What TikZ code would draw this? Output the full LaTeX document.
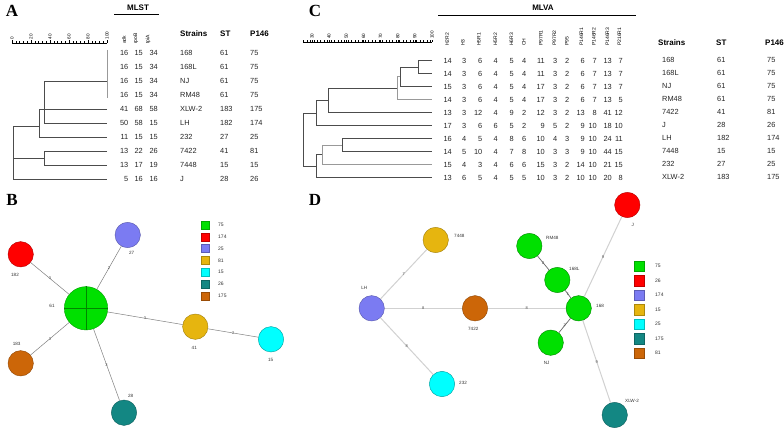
\documentclass[tikz,border=0pt]{standalone}
\usepackage{fontspec}
\setmainfont{Liberation Sans}
\newfontfamily\letterfont{Liberation Serif}
\definecolor{cgrn}{HTML}{00E000}
\definecolor{cred}{HTML}{FF0000}
\definecolor{cpur}{HTML}{7B7BF2}
\definecolor{cyel}{HTML}{E6B50F}
\definecolor{ccya}{HTML}{00FFFF}
\definecolor{ctea}{HTML}{138783}
\definecolor{cbro}{HTML}{CC6608}
\begin{document}
\begin{tikzpicture}[x=1pt,y=-1pt,
  cell/.style={font=\fontsize{7.4}{8}\selectfont, inner sep=0pt, text=black!85},
  hdr/.style={font=\bfseries\fontsize{8}{9}\selectfont, inner sep=0pt, anchor=west},
  rot/.style={font=\fontsize{5}{6}\selectfont, inner sep=0pt, rotate=90, anchor=west},
  axl/.style={font=\fontsize{4.6}{5}\selectfont, inner sep=0pt, rotate=90, anchor=west},
  letter/.style={font=\letterfont\bfseries\fontsize{17}{17}\selectfont, inner sep=0pt},
  dend/.style={line width=0.7pt, draw=black!70},
  dendg/.style={line width=0.9pt, draw=black!40},
  bub/.style={circle, minimum size=25.4pt, inner sep=0pt, line width=0.4pt},
  nlab/.style={font=\fontsize{4.6}{5}\selectfont, inner sep=0pt, text=black!80},
  elab/.style={font=\fontsize{4}{4}\selectfont, inner sep=0pt, text=black!70},
  bedge/.style={draw=black!50, line width=0.5pt},
  dedge/.style={draw=black!18, line width=1pt},
  dedged/.style={draw=black!60, line width=0.7pt},
  lsq/.style={minimum size=8pt, inner sep=0pt, line width=0.3pt},
  lsqd/.style={minimum size=10.5pt, inner sep=0pt, line width=0.3pt},
  ltx/.style={font=\fontsize{5}{6}\selectfont, inner sep=0pt, anchor=west, text=black!80}
]
\useasboundingbox (0,0) rectangle (784,430);
\fill[white] (0,0) rectangle (784,430);

% ================= Panel A =================
\node[letter] (lA) at (12,11) {A};
\node[font=\bfseries\fontsize{8}{9}\selectfont, inner sep=0pt] (mlst) at (138,8) {MLST};
\coordinate (mlstL) at (114,14);
\coordinate (mlstR) at (159,14);
\draw[line width=0.8pt] (mlstL) -- (mlstR);
% axis
\coordinate (axA0) at (12,43);
\coordinate (axA1) at (107,43);
\draw[line width=0.4pt] (axA0) -- (axA1);
\foreach \k in {0,...,25} {
  \draw[line width=0.3pt] (12+\k*3.8,43) -- (12+\k*3.8,41.3);
}
\foreach \v [count=\i from 0] in {0,20,40,60,80,100} {
  \draw[line width=0.4pt] (12+\i*19,43) -- (12+\i*19,40.5);
  \node[axl] (axa\i) at (12+\i*19,39.5) {\v};
}
% headers
\node[rot] (hadk) at (124,44) {adk};
\node[rot] (hrpo) at (136,44) {rpoB};
\node[rot] (htpi) at (148,44) {tpiA};
\node[hdr] (hsA) at (180,34) {Strains};
\node[hdr] (hstA) at (220,34) {ST};
\node[hdr] (hpA) at (250,34) {P146};
\foreach \s/\a/\b/\c/\st/\p [count=\i] in {168/16/15/34/61/75, 168L/16/15/34/61/75, NJ/16/15/34/61/75, RM48/16/15/34/61/75, XLW-2/41/68/58/183/175, LH/50/58/15/182/174, 232/11/15/15/27/25, 7422/13/22/26/41/81, 7448/13/17/19/15/15, J/5/16/16/28/26} {
  \pgfmathsetmacro\yy{53+14*(\i-1)+2.6}
  \node[cell, anchor=base east] (aa\i) at (128.5,\yy) {\a};
  \node[cell, anchor=base east] (ab\i) at (143,\yy) {\b};
  \node[cell, anchor=base east] (ac\i) at (158,\yy) {\c};
  \node[cell, anchor=base west] (as\i) at (180,\yy) {\s};
  \node[cell, anchor=base west] (ast\i) at (220,\yy) {\st};
  \node[cell, anchor=base west] (ap\i) at (250,\yy) {\p};
}
% dendrogram A
\coordinate (A61t) at (107,50);
\coordinate (A61b) at (107,98);
\draw[dendg] (A61t) -- (A61b);
\coordinate (Ar3) at (107,81);
\coordinate (Ar5) at (107,109);
\coordinate (Ar6) at (107,123);
\coordinate (Ar7) at (107,137);
\coordinate (Ar8) at (107,151);
\coordinate (Ar9) at (107,165);
\coordinate (Ar10) at (107,179);
\coordinate (An1) at (44,81);
\coordinate (An1b) at (44,123);
\draw[dend] (Ar3) -- (An1) -- (An1b) -- (Ar6);
\coordinate (An2) at (39,109);
\coordinate (An2b) at (39,137);
\draw[dend] (Ar5) -- (An2) -- (An2b) -- (Ar7);
\coordinate (An3) at (44,151);
\coordinate (An3b) at (44,165);
\draw[dend] (Ar8) -- (An3) -- (An3b) -- (Ar9);
\coordinate (Ar0a) at (13,126);
\coordinate (Ar0b) at (13,179);
\draw[dend] (39,126) -- (Ar0a) -- (Ar0b) -- (Ar10);
\draw[dend] (44,158) -- (13,158);

% ================= Panel C =================
\node[letter] (lC) at (315,11) {C};
\node[font=\bfseries\fontsize{8}{9}\selectfont, inner sep=0pt] (mlva) at (543,8) {MLVA};
\coordinate (mlvaL) at (438,15);
\coordinate (mlvaR) at (636,15);
\draw[line width=0.8pt] (mlvaL) -- (mlvaR);
\coordinate (axC0) at (303.4,42);
\coordinate (axC1) at (432,42);
\draw[line width=0.4pt] (axC0) -- (axC1);
\foreach \k in {0,...,37} {
  \draw[line width=0.3pt] (303.4+\k*3.428,42) -- (303.4+\k*3.428,40.5);
}
\foreach \v [count=\i from 0] in {30,40,50,60,70,80,90,100} {
  \draw[line width=0.4pt] (312+\i*17.14,42) -- (312+\i*17.14,40);
  \node[axl] (axc\i) at (312+\i*17.14,39) {\v};
}
\foreach \h/\x [count=\j] in {H2R2/447,H3/463,H5R1/479,H5R2/495.5,H6R3/511.5,CH/524,P97R1/541,P97R2/554.5,P95/567,P146R1/581.5,P146R2/594,P146R3/607.5,P216R1/619.5} {
  \node[rot] (hc\j) at (\x,46) {\h};
}
\foreach \row [count=\i] in {{14,3,6,4,5,4,11,3,2,6,7,13,7},{14,3,6,4,5,4,11,3,2,6,7,13,7},{15,3,6,4,5,4,17,3,2,6,7,13,7},{14,3,6,4,5,4,17,3,2,6,7,13,5},{13,3,12,4,9,2,12,3,2,13,8,41,12},{17,3,6,6,5,2,9,5,2,9,10,18,10},{16,4,5,4,8,6,10,4,3,9,10,24,11},{14,5,10,4,7,8,10,3,3,9,10,44,15},{15,4,3,4,6,6,15,3,2,14,10,21,15},{13,6,5,4,5,5,10,3,2,10,10,20,8}} {
  \pgfmathsetmacro\yy{60.5+13*(\i-1)+2.6}
  \foreach \v [count=\j] in \row {
    \pgfmathsetmacro\xx{{452,466.5,482.5,498,514,526.5,545,557.5,569.5,585,597,612,623}[\j-1]}
    \node[cell, anchor=base east] (c\i-\j) at (\xx,\yy) {\v};
  }
}
\node[hdr] (hsC) at (658,43) {Strains};
\node[hdr] (hstC) at (716,43) {ST};
\node[hdr] (hpC) at (765,43) {P146};
\foreach \s/\st/\p [count=\i] in {168/61/75, 168L/61/75, NJ/61/75, RM48/61/75, 7422/41/81, J/28/26, LH/182/174, 7448/15/15, 232/27/25, XLW-2/183/175} {
  \pgfmathsetmacro\yy{59.5+13*(\i-1)+2.6}
  \node[cell, anchor=base west] (cs\i) at (662,\yy) {\s};
  \node[cell, anchor=base west] (cst\i) at (717,\yy) {\st};
  \node[cell, anchor=base west] (cp\i) at (767,\yy) {\p};
}
% dendrogram C
\foreach \i in {1,...,10} {
  \coordinate (Cr\i) at (432,{60.5+13*(\i-1)});
}
\draw[dend] (Cr1) -- (418,60.5) -- (418,73.5) -- (Cr2);
\draw[dend] (418,67) -- (400,67) -- (400,86.5) -- (Cr3);
\draw[dendg] (400,76.75) -- (397,76.75) -- (397,99.5) -- (Cr4);
\draw[dend] (397,88.1) -- (328,88.1) -- (328,112.5) -- (Cr5);
\draw[dend] (328,100.3) -- (316,100.3) -- (316,125.5) -- (Cr6);
\draw[dend] (Cr7) -- (342,138.5) -- (342,151.5) -- (Cr8);
\draw[dendg] (342,145) -- (322,145) -- (322,164.5) -- (Cr9);
\draw[dend] (322,154.75) -- (316,154.75) -- (316,177.5) -- (Cr10);
\draw[dend] (316,112.9) -- (303,112.9) -- (303,166.1) -- (316,166.1);

% ================= Panel B =================
\node[letter] (lB) at (12,200) {B};
\node[circle, minimum size=43.4pt, inner sep=0pt, fill=cgrn, draw=cgrn!70!black, line width=0.4pt] (b61) at (86,308.3) {};
\draw[cgrn!60!black, line width=0.35pt] (b61.north) -- (b61.south);
\draw[cgrn!60!black, line width=0.35pt] (b61.west) -- (b61.east);
\node[bub, fill=cred, draw=cred!70!black] (b182) at (20.7,254.3) {};
\node[bub, fill=cpur, draw=cpur!70!black] (b27) at (127.7,235) {};
\node[bub, fill=cbro, draw=cbro!70!black] (b183) at (20.7,363.3) {};
\node[bub, fill=ctea, draw=ctea!70!black] (b28) at (124,412.7) {};
\node[bub, fill=cyel, draw=cyel!70!black] (b41) at (195.3,326.7) {};
\node[bub, fill=ccya, draw=ccya!60!black] (b15) at (271,339.3) {};
\node[nlab] (tb61) at (52,306) {61};
\node[nlab] (tb182) at (15,275) {182};
\node[nlab] (tb27) at (131.7,252.7) {27};
\node[nlab] (tb183) at (16.7,344) {183};
\node[nlab] (tb28) at (130.7,395.7) {28};
\node[nlab] (tb41) at (194.3,348.3) {41};
\node[nlab] (tb15) at (270.7,360) {15};
\draw[bedge] (b61) -- node[elab] (eb1) {3} (b182);
\draw[bedge] (b61) -- node[elab] (eb2) {2} (b27);
\draw[bedge] (b61) -- node[elab] (eb3) {3} (b183);
\draw[bedge] (b61) -- node[elab] (eb4) {3} (b28);
\draw[bedge] (b61) -- node[elab] (eb5) {3} (b41);
\draw[bedge] (b41) -- node[elab] (eb6) {2} (b15);
% legend B
\foreach \c/\t [count=\i] in {cgrn/75, cred/174, cpur/25, cyel/81, ccya/15, ctea/26, cbro/175} {
  \pgfmathsetmacro\yy{225+11.8*(\i-1)}
  \node[lsq, fill=\c, draw=\c!75!black] (lgb\i) at (205.5,\yy) {};
  \node[ltx] (lgbt\i) at (218,\yy) {\t};
}

% ================= Panel D =================
\node[letter] (lD) at (315,200) {D};
\node[bub, fill=cpur, draw=cpur!70!black] (dLH) at (371.7,308.3) {};
\node[bub, fill=cyel, draw=cyel!70!black] (d7448) at (435.7,240) {};
\node[bub, fill=cbro, draw=cbro!70!black] (d7422) at (475,308.3) {};
\node[bub, fill=ccya, draw=ccya!60!black] (d232) at (442,384) {};
\node[bub, fill=cgrn, draw=cgrn!60!black] (dRM) at (529.3,246) {};
\node[bub, fill=cgrn, draw=cgrn!60!black] (d168L) at (557.3,280) {};
\node[bub, fill=cgrn, draw=cgrn!60!black] (d168) at (578.7,308.3) {};
\node[bub, fill=cgrn, draw=cgrn!60!black] (dNJ) at (550.7,342.7) {};
\node[bub, fill=ctea, draw=ctea!70!black] (dXLW) at (614.7,415) {};
\node[bub, fill=cred, draw=cred!70!black] (dJ) at (627.3,205) {};
\node[nlab] (tdLH) at (364.3,287.7) {LH};
\node[nlab, anchor=west] (td7448) at (454,235.7) {7448};
\node[nlab] (td7422) at (473.3,329.3) {7422};
\node[nlab, anchor=west] (td232) at (459,383.3) {232};
\node[nlab, anchor=west] (tdRM) at (546,238.3) {RM48};
\node[nlab, anchor=west] (td168L) at (569,269.3) {168L};
\node[nlab, anchor=west] (td168) at (596,306) {168};
\node[nlab] (tdNJ) at (546.7,362.7) {NJ};
\node[nlab, anchor=west] (tdXLW) at (625,401) {XLW-2};
\node[nlab] (tdJ) at (632.7,225) {J};
\draw[dedge] (dLH) -- node[elab] (ed1) {7} (d7448);
\draw[dedge] (dLH) -- node[elab] (ed2) {8} (d7422);
\draw[dedge] (dLH) -- node[elab] (ed3) {8} (d232);
\draw[dedge] (d7422) -- node[elab] (ed4) {8} (d168);
\draw[dedge] (d168) -- node[elab] (ed5) {9} (dJ);
\draw[dedge] (d168) -- node[elab] (ed6) {9} (dXLW);
\draw[dedged] (dRM) -- node[elab] (ed7) {2} (d168L);
\draw[dedged] (d168L) -- node[elab] (ed8) {1} (d168);
\draw[dedged] (d168) -- node[elab] (ed9) {2} (dNJ);
% legend D
\foreach \c/\t [count=\i] in {cgrn/75, cred/26, cpur/174, cyel/15, ccya/25, ctea/175, cbro/81} {
  \pgfmathsetmacro\yy{266+14.5*(\i-1)}
  \node[lsqd, fill=\c, draw=\c!75!black] (lgd\i) at (639.3,\yy) {};
  \node[ltx] (lgdt\i) at (655,\yy) {\t};
}
\end{tikzpicture}
\end{document}
